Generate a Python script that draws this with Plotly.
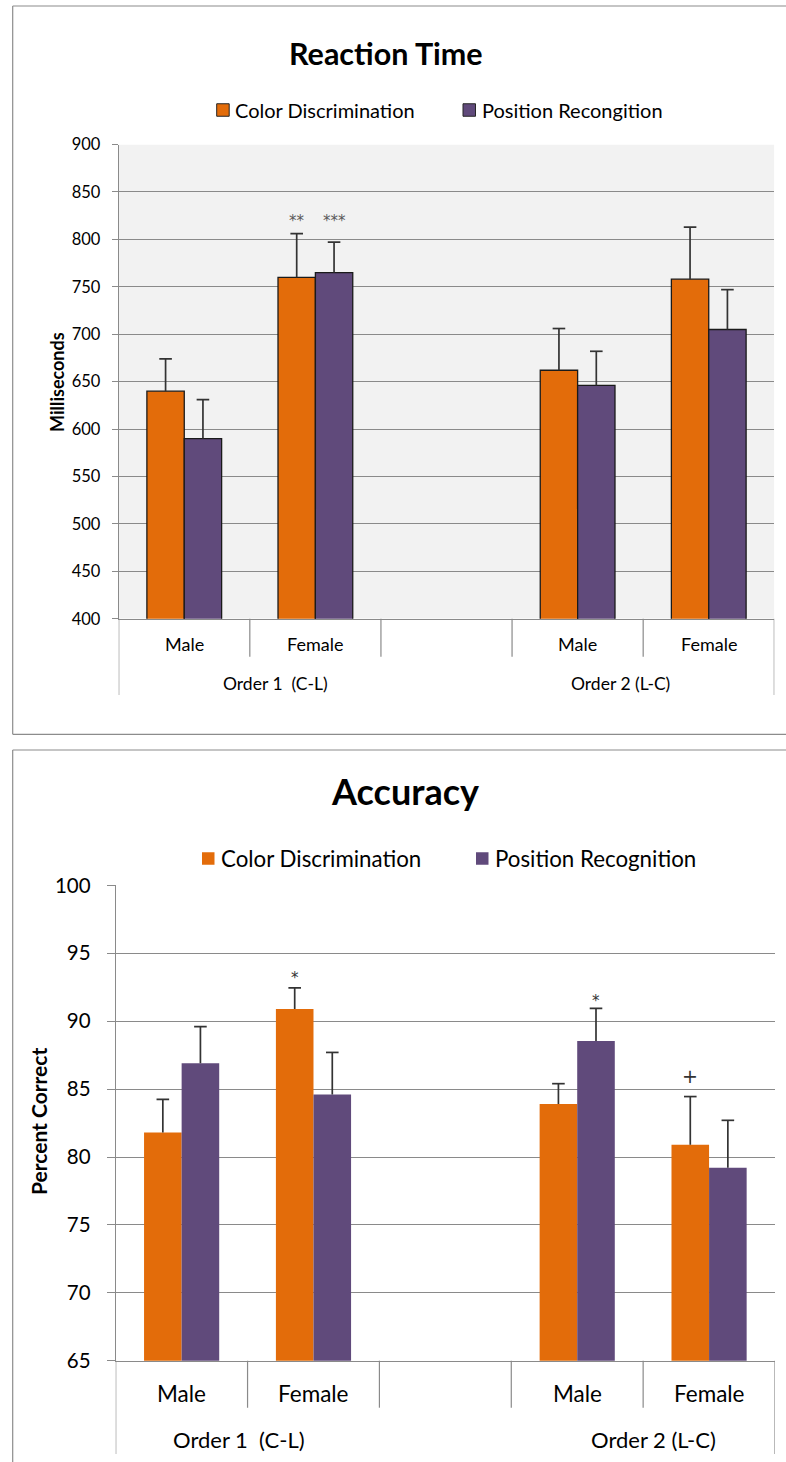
import plotly.graph_objects as go

W, H = 786, 1462
FONT = "Lato, 'Open Sans', sans-serif"

# ---- data -------------------------------------------------------------
positions = [0, 1, 3, 4]            # slot 2 is left empty between the two orders
sex_labels = ["Male", "Female", "Male", "Female"]
order_labels = ["Order 1  (C-L)", "Order 2 (L-C)"]

rt_names = ["Color Discrimination", "Position Recongition"]
rt_color = [640, 760, 662, 758]
rt_color_err = [34, 46, 44, 55]
rt_position = [590, 765, 646, 705]
rt_position_err = [41, 32, 36, 42]
rt_ticks = [400, 450, 500, 550, 600, 650, 700, 750, 800, 850, 900]

acc_names = ["Color Discrimination", "Position Recognition"]
acc_color = [81.8, 90.9, 83.9, 80.9]
acc_color_err = [2.45, 1.55, 1.5, 3.55]
acc_position = [86.9, 84.6, 88.55, 79.2]
acc_position_err = [2.7, 3.1, 2.4, 3.5]
acc_ticks = [65, 70, 75, 80, 85, 90, 95, 100]

# significance marks: (text, bar index, series index, y value)
rt_marks = [("**", 1, 0, 822), ("***", 1, 1, 822)]
acc_marks = [("*", 1, 0, 93.4), ("*", 2, 1, 91.7), ("+", 3, 0, 85.96)]

ORANGE = "#E36C0A"
PURPLE = "#604A7B"
GRID = "#8a8a8a"
ERR = "#333333"
BARGAP = 0.43
HALF = (1 - BARGAP) / 4


def px(x):
    return x / W


def py(y):
    return 1 - y / H


fig = go.Figure()


def add_bars(vals, errs, name, color, xa, ya, outline, side):
    # bar with an upward-only error stem (no caps: caps are added separately
    # so that no cap is drawn on the bar top)
    fig.add_trace(go.Bar(
        x=positions, y=vals, name=name, xaxis=xa, yaxis=ya,
        marker=dict(color=color,
                    line=dict(color="#1a1a1a", width=1.3 if outline else 0)),
        error_y=dict(type="data", array=errs, arrayminus=[0] * len(errs),
                     symmetric=False, color=ERR, thickness=1.7, width=0),
        showlegend=False,
    ))
    fig.add_trace(go.Scatter(
        x=[p + side * HALF for p in positions],
        y=[v + e for v, e in zip(vals, errs)],
        mode="markers", xaxis=xa, yaxis=ya, showlegend=False,
        hoverinfo="skip",
        marker=dict(symbol="line-ew", size=9, color=ERR,
                    line=dict(color=ERR, width=1.7)),
    ))


add_bars(rt_color, rt_color_err, rt_names[0], ORANGE, "x", "y", True, -1)
add_bars(rt_position, rt_position_err, rt_names[1], PURPLE, "x", "y", True, 1)
add_bars(acc_color, acc_color_err, acc_names[0], ORANGE, "x2", "y2", False, -1)
add_bars(acc_position, acc_position_err, acc_names[1], PURPLE, "x2", "y2", False, 1)

# plot areas in pixels: (left, right, top, bottom)
TOP = (118.7, 774.3, 144.5, 618.8)
BOT = (115.7, 775.0, 885.4, 1360.7)

common_x = dict(range=[-0.5, 4.5], showgrid=False, zeroline=False,
                showticklabels=False, showline=True, linecolor=GRID,
                linewidth=1, fixedrange=True)

fig.update_layout(
    width=W, height=H, margin=dict(l=0, r=0, t=0, b=0, autoexpand=False),
    paper_bgcolor="white", plot_bgcolor="white",
    barmode="group", bargap=BARGAP, bargroupgap=0,
    font=dict(family=FONT, color="#000000"),
    showlegend=False,
    xaxis=dict(domain=[px(TOP[0]), px(TOP[1])], anchor="y", **common_x),
    yaxis=dict(domain=[py(TOP[3]), py(TOP[2])], anchor="x",
               range=[400, 900], tickvals=rt_ticks, showgrid=True,
               gridcolor=GRID, gridwidth=1, zeroline=False, showline=True,
               linecolor=GRID, ticks="outside", ticklen=6, tickcolor=GRID,
               tickfont=dict(size=16.5, family=FONT), ticklabelstandoff=8,
               automargin=False),
    xaxis2=dict(domain=[px(BOT[0]), px(BOT[1])], anchor="y2", **common_x),
    yaxis2=dict(domain=[py(BOT[3]), py(BOT[2])], anchor="x2",
                range=[65, 100], tickvals=acc_ticks, showgrid=True,
                gridcolor=GRID, gridwidth=1, zeroline=False, showline=True,
                linecolor=GRID, ticks="outside", ticklen=8, tickcolor=GRID,
                tickfont=dict(size=20.5, family=FONT), ticklabelstandoff=12,
                automargin=False),
)

shapes = []
ann = []

# grey plot background of the reaction-time panel
shapes.append(dict(type="rect", xref="x", yref="y", x0=-0.5, x1=4.5,
                   y0=400, y1=900, fillcolor="#f2f2f2", line=dict(width=0),
                   layer="below"))

# outer frames of the two chart panels
frame = dict(color="#8c8c8c", width=1.2)
shapes += [
    dict(type="line", xref="paper", yref="paper", x0=px(12.7), x1=1.01,
         y0=py(6), y1=py(6), line=frame),
    dict(type="line", xref="paper", yref="paper", x0=px(12.7), x1=px(12.7),
         y0=py(6), y1=py(734.3), line=frame),
    dict(type="line", xref="paper", yref="paper", x0=px(12.7), x1=1.01,
         y0=py(734.3), y1=py(734.3), line=frame),
    dict(type="line", xref="paper", yref="paper", x0=px(12.7), x1=1.01,
         y0=py(750), y1=py(750), line=frame),
    dict(type="line", xref="paper", yref="paper", x0=px(12.7), x1=px(12.7),
         y0=py(750), y1=-0.01, line=frame),
]


def category_axis(xref, y_top, y_inner, y_outer, y_sex, y_order,
                  order_x, size_sex, size_order):
    # dividers between categories, longer ones at the two ends
    for b in [-0.5, 0.5, 1.5, 2.5, 3.5, 4.5]:
        end = y_outer if b in (-0.5, 4.5) else y_inner
        shapes.append(dict(type="line", xref=xref, yref="paper", x0=b, x1=b,
                           y0=py(y_top), y1=py(end),
                           line=dict(color=GRID, width=1.2)))
    for pos, lab in zip(positions, sex_labels):
        ann.append(dict(x=pos, y=py(y_sex), xref=xref, yref="paper",
                        text=lab, showarrow=False, xanchor="center",
                        yanchor="middle", font=dict(size=size_sex)))
    for xp, lab in zip(order_x, order_labels):
        ann.append(dict(x=px(xp), y=py(y_order), xref="paper", yref="paper",
                        text=lab, showarrow=False, xanchor="center",
                        yanchor="middle", font=dict(size=size_order)))


category_axis("x", TOP[3], 656.7, 695, 644.5, 683.5, [275, 620], 18, 17.5)
category_axis("x2", BOT[3], 1407.7, 1454, 1393, 1439, [239, 653.7], 22.5, 22)


def legend(y_mid, sq, entries, size, outline):
    for (x_sq, label, color) in entries:
        shapes.append(dict(type="rect", xref="paper", yref="paper",
                           x0=px(x_sq), x1=px(x_sq + sq),
                           y0=py(y_mid + sq / 2), y1=py(y_mid - sq / 2),
                           fillcolor=color,
                           line=dict(color="#262626" if outline else color,
                                     width=1 if outline else 0)))
        ann.append(dict(x=px(x_sq + sq + 4), y=py(y_mid), xref="paper",
                        yref="paper", text=label, showarrow=False,
                        xanchor="left", yanchor="middle",
                        font=dict(size=size)))


legend(110, 12.5, [(216.7, rt_names[0], ORANGE), (463, rt_names[1], PURPLE)],
       20, True)
legend(858.5, 12.5, [(202, acc_names[0], ORANGE), (476, acc_names[1], PURPLE)],
       22.3, False)

# titles
ann.append(dict(x=px(386), y=py(53), xref="paper", yref="paper",
                text="<b>Reaction Time</b>", showarrow=False,
                xanchor="center", yanchor="middle", font=dict(size=30.5)))
ann.append(dict(x=px(405), y=py(791), xref="paper", yref="paper",
                text="<b>Accuracy</b>", showarrow=False,
                xanchor="center", yanchor="middle", font=dict(size=36)))

# axis titles
ann.append(dict(x=px(57), y=py(382), xref="paper", yref="paper",
                text="<b>Milliseconds</b>", showarrow=False, textangle=-90,
                xanchor="center", yanchor="middle", font=dict(size=18)))
ann.append(dict(x=px(38), y=py(1122), xref="paper", yref="paper",
                text="<b>Percent Correct</b>", showarrow=False, textangle=-90,
                xanchor="center", yanchor="middle", font=dict(size=21)))

# significance marks above bars
MARK_FONT = "'DejaVu Sans', sans-serif"
for text, i, s, yv in rt_marks:
    ann.append(dict(x=positions[i] + (HALF if s else -HALF), y=yv,
                    xref="x", yref="y", text=text, showarrow=False,
                    xanchor="center", yanchor="middle", yshift=-3,
                    font=dict(size=15, color="#595959", family=MARK_FONT)))
for text, i, s, yv in acc_marks:
    ann.append(dict(x=positions[i] + (HALF if s else -HALF), y=yv,
                    xref="x2", yref="y2", text=text, showarrow=False,
                    xanchor="center", yanchor="middle",
                    yshift=0 if text == "+" else -3,
                    font=dict(size=19 if text == "+" else 15, color="#333333",
                              family=MARK_FONT)))

fig.update_layout(shapes=shapes, annotations=ann)
fig.write_html("out.html")
